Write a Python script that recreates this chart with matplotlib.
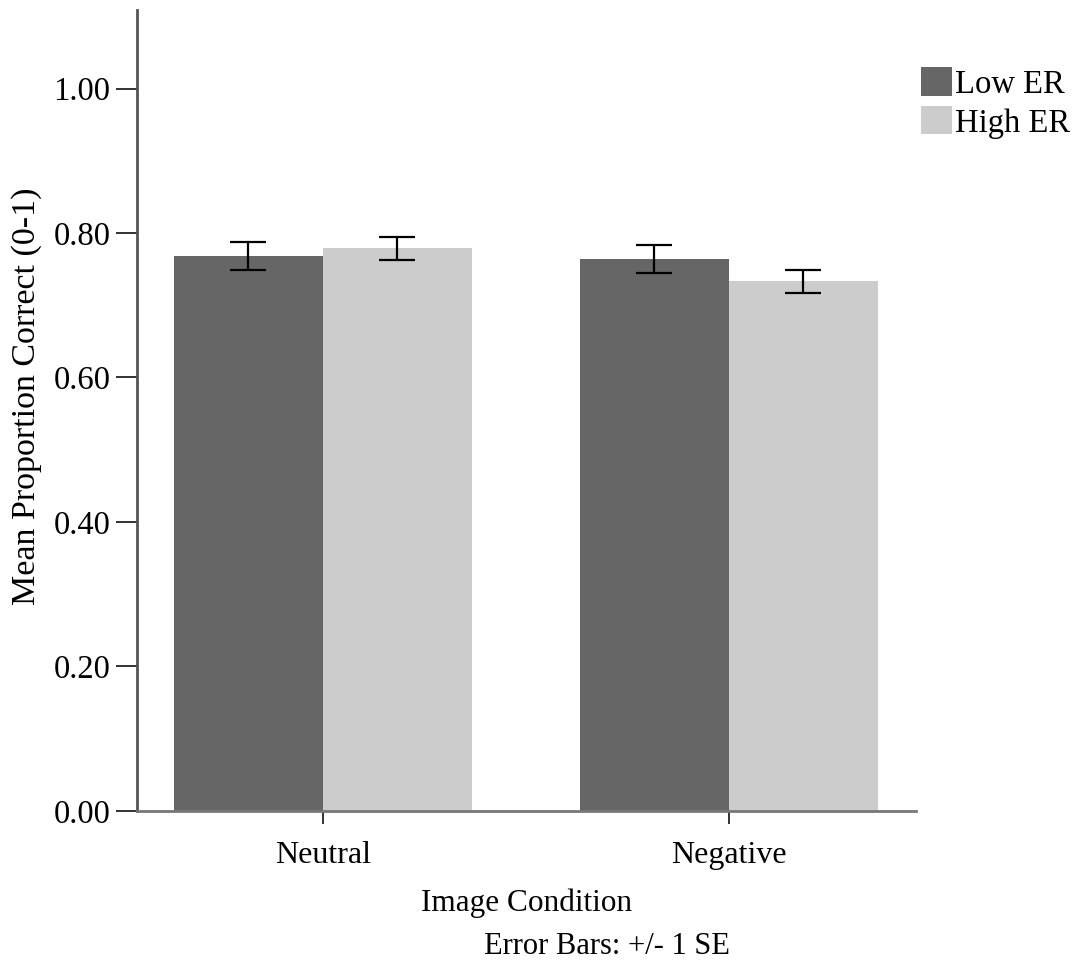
import matplotlib.pyplot as plt
import numpy as np

plt.rcParams['font.family'] = ['Liberation Serif', 'DejaVu Serif']

conditions = ['Neutral', 'Negative']
groups = ['Low ER', 'High ER']
low_er = [0.768, 0.764]
high_er = [0.779, 0.733]
low_se = [0.019, 0.020]
high_se = [0.016, 0.016]
yticks = [0.0, 0.2, 0.4, 0.6, 0.8, 1.0]

fig = plt.figure(figsize=(10.75, 9.77), dpi=100)
ax = fig.add_axes([0.1274, 0.170, 0.7246, 0.820])

x = np.arange(len(conditions))
w = 0.367
ax.bar(x - w / 2, low_er, w, color='#666666', label=groups[0])
ax.bar(x + w / 2, high_er, w, color='#cccccc', label=groups[1])
ax.errorbar(x - w / 2, low_er, yerr=low_se, fmt='none', ecolor='black',
            elinewidth=1.6, capsize=13, capthick=1.6)
ax.errorbar(x + w / 2, high_er, yerr=high_se, fmt='none', ecolor='black',
            elinewidth=1.6, capsize=13, capthick=1.6)

ax.set_xlim(-0.458, 1.461)
ax.set_ylim(0, 1.109)
ax.set_yticks(yticks)
ax.set_yticklabels([f'{t:.2f}' for t in yticks])
ax.set_xticks(x)
ax.set_xticklabels(conditions)
ax.tick_params(axis='y', length=15, width=1.3, pad=4, labelsize=23.5, color='#222222')
ax.tick_params(axis='x', length=9, width=1.3, pad=13, labelsize=23, color='#222222')

for s in ['top', 'right']:
    ax.spines[s].set_visible(False)
ax.spines['left'].set_color('#555555')
ax.spines['left'].set_linewidth(2.0)
ax.spines['bottom'].set_color('#777777')
ax.spines['bottom'].set_linewidth(2.0)

ax.set_ylabel('Mean Proportion Correct (0-1)', fontsize=24.5)
ax.yaxis.set_label_coords(-0.122, 0.517)
ax.set_xlabel('Image Condition', fontsize=22.5, labelpad=13)

fig.legend(loc='upper left', bbox_to_anchor=(0.857, 0.931), frameon=False,
           fontsize=23.5, handlelength=0.95, handleheight=0.95, handletextpad=0.08,
           labelspacing=0.2, borderaxespad=0, borderpad=0)

fig.text(0.565, 0.031, 'Error Bars: +/- 1 SE', ha='center', va='center', fontsize=22)

fig.savefig('out.png', dpi=100)
